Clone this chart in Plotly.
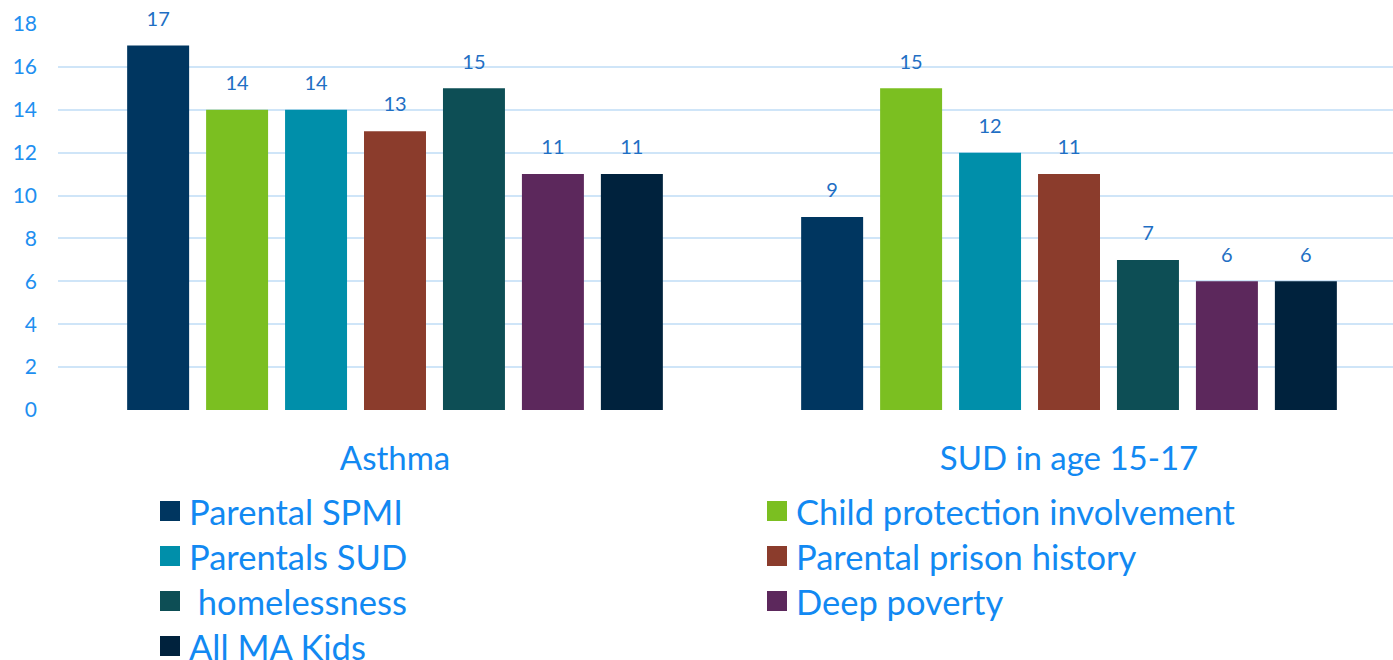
import plotly.graph_objects as go

categories = ["Asthma", "SUD in age 15-17"]
series_names = [
    "Parental SPMI",
    "Child protection involvement",
    "Parentals SUD",
    "Parental prison history",
    " homelessness",
    "Deep poverty",
    "All MA Kids",
]
series_colors = ["#003660", "#7BBF21", "#008FAA", "#8B3C2C", "#0D4E55", "#5C285C", "#00223D"]
asthma_values = [17, 14, 14, 13, 15, 11, 11]
sud_values = [9, 15, 12, 11, 7, 6, 6]
y_ticks = list(range(0, 20, 2))

FONT = "Lato"
TICK_COLOR = "#1E8FF0"
LABEL_COLOR = "#1F6FC4"
LEGEND_COLOR = "#1289F2"

W, H = 1393, 660
ML, MR, MT, MB = 58, 0, 24, 250
PW, PH = W - ML - MR, H - MT - MB

fig = go.Figure()
for i, name in enumerate(series_names):
    vals = [asthma_values[i], sud_values[i]]
    fig.add_trace(go.Bar(
        x=[0, 1], y=vals, name=name,
        marker=dict(color=series_colors[i], line=dict(width=0)),
        showlegend=False, hoverinfo="skip",
    ))

# value labels: grouped text traces sharing the bar slots
for i, name in enumerate(series_names):
    vals = [asthma_values[i], sud_values[i]]
    fig.add_trace(go.Scatter(
        x=[0, 1], y=vals, mode="markers+text",
        marker=dict(size=22, opacity=0),
        text=[str(v) for v in vals], textposition="top center",
        textfont=dict(family=FONT, size=20, color=LABEL_COLOR),
        cliponaxis=False, showlegend=False, hoverinfo="skip",
    ))

# two-column legend built below the chart
def px_to_paper_x(px):
    return (px - ML) / PW

def px_to_paper_y(py):
    return (H - MB - py) / PH

shapes, annotations = [], []
col_x = [160, 767]
row_y0, row_step, sq = 511, 45, 20
for i, (name, color) in enumerate(zip(series_names, series_colors)):
    cx = col_x[i % 2]
    cy = row_y0 + (i // 2) * row_step
    shapes.append(dict(
        type="rect", xref="paper", yref="paper",
        x0=px_to_paper_x(cx), x1=px_to_paper_x(cx + sq),
        y0=px_to_paper_y(cy + sq / 2), y1=px_to_paper_y(cy - sq / 2),
        fillcolor=color, line=dict(width=0),
    ))
    label = name.replace(" ", "&nbsp;", 1) if name.startswith(" ") else name
    annotations.append(dict(
        xref="paper", yref="paper", x=px_to_paper_x(cx + sq + 7), y=px_to_paper_y(cy),
        xanchor="left", yanchor="middle", text=label,
        showarrow=False, font=dict(family=FONT, size=34.5, color=LEGEND_COLOR),
    ))

fig.update_layout(
    width=W, height=H,
    margin=dict(l=ML, r=MR, t=MT, b=MB),
    paper_bgcolor="white", plot_bgcolor="white",
    barmode="group", bargap=0.18, bargroupgap=0.215,
    scattermode="group", scattergap=0.18,
    showlegend=False,
    shapes=shapes, annotations=annotations,
    xaxis=dict(
        tickmode="array", tickvals=[0, 1], ticktext=categories,
        range=[-0.5, 1.4807], showgrid=False, zeroline=False, showline=False,
        ticks="", ticklabelstandoff=26,
        tickfont=dict(family=FONT, size=33, color=LEGEND_COLOR),
    ),
    yaxis=dict(
        range=[0, 18], tickvals=y_ticks, showgrid=True, gridcolor="#CFE5F8", gridwidth=2,
        zeroline=False, showline=False, ticks="", ticklabelstandoff=20,
        tickfont=dict(family=FONT, size=21, color=TICK_COLOR),
    ),
)

fig.write_html("out.html")
